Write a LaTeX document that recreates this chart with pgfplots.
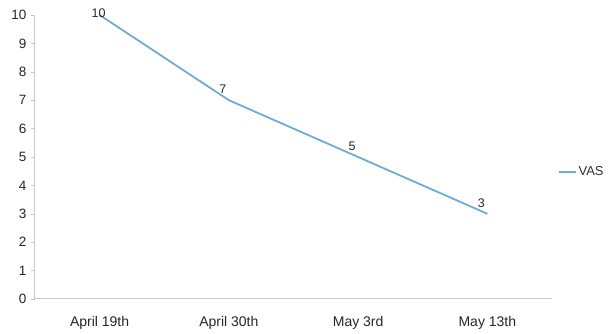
\documentclass[border=0pt]{standalone}
\usepackage{pgfplots}
\pgfplotsset{compat=1.18}
\usepackage{fontspec}
\setmainfont{Liberation Sans}
\definecolor{vas}{RGB}{110,172,212}
\definecolor{axgray}{RGB}{200,200,200}
\begin{document}
\fontsize{13pt}{15pt}\selectfont
\begin{tikzpicture}[x=1pt,y=1pt]
\path[use as bounding box] (-35,-35) rectangle (578,299);
\begin{axis}[
  at={(0,0)}, anchor=south west,
  scale only axis, width=517pt, height=284pt,
  xmin=-0.5, xmax=3.5, ymin=0, ymax=10,
  axis x line=bottom, axis y line=left,
  axis line style={axgray, line width=1pt, -},
  xtick={0,1,2,3},
  xticklabels={April 19th, April 30th, May 3rd, May 13th},
  x tick style={draw=none},
  ytick={0,1,...,10},
  y tick style={axgray},
  tick align=outside, major tick length=4pt,
  tick label style={font=\fontsize{13.5pt}{15pt}\selectfont, text=black!85},
  xticklabel style={font=\fontsize{14pt}{16pt}\selectfont, yshift=-9pt},
  /pgf/number format/assume math mode=true,
  legend style={at={(1.005,0.447)}, anchor=west, draw=none, fill=none,
    font=\fontsize{13pt}{15pt}\selectfont, text=black!80},
  legend cell align=left,
  legend image code/.code={\draw[#1] (0pt,0pt) -- (17pt,0pt);},
  clip=false,
]
\addplot[color=vas, line width=1.8pt, mark=none]
  coordinates {(0,10) (1,7) (2,5) (3,3)};
\addlegendentry{VAS}
\addplot[draw=none, mark=none, forget plot,
  nodes near coords, every node near coord/.append style={anchor=south, xshift=-6pt, yshift=2pt, text=black!85, font=\fontsize{12.5pt}{14pt}\selectfont}]
  coordinates {(1,7) (2,5) (3,3)};
\addplot[draw=none, mark=none, forget plot,
  nodes near coords, every node near coord/.append style={anchor=center, xshift=-1pt, yshift=2pt, text=black!85, font=\fontsize{12.5pt}{14pt}\selectfont}]
  coordinates {(0,10)};
\end{axis}
\end{tikzpicture}
\end{document}
